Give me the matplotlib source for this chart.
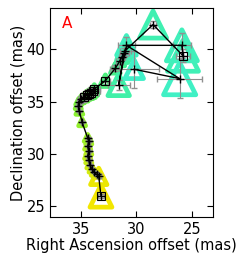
import numpy as np
import matplotlib
matplotlib.use("Agg")
import matplotlib.pyplot as plt
from matplotlib.colors import LinearSegmentedColormap

# Component positions in time order (mas)
ra = [33.2, 33.4, 33.6, 33.8, 34.0, 34.2, 34.3, 34.4, 34.3, 34.4, 34.3, 34.4,
      34.9, 35.15, 35.25, 35.2, 35.0, 34.7, 34.5, 34.3, 34.1, 33.9, 33.8,
      32.8, 31.9, 31.5, 31.3, 31.1, 31.6, 31.0, 28.5, 25.8, 25.9, 30.9, 26.1, 30.2]
dec = [25.9, 27.8, 28.0, 28.2, 28.5, 28.9, 29.4, 29.8, 30.2, 30.7, 31.2, 31.5,
       33.0, 34.1, 34.6, 35.0, 35.2, 35.4, 35.6, 35.7, 35.8, 36.0, 36.2,
       37.0, 38.2, 38.9, 39.3, 39.7, 36.6, 39.9, 42.4, 39.4, 40.4, 40.4, 37.2, 38.1]
ra_err = [0.3, 0.2, 0.1, 0.1, 0.1, 0.1, 0.1, 0.1, 0.1, 0.1, 0.1, 0.1,
          0.1, 0.1, 0.1, 0.2, 0.3, 0.4, 0.5, 0.5, 0.6, 0.6, 0.5,
          0.4, 0.3, 0.3, 0.3, 0.4, 1.0, 0.5, 0.3, 0.6, 0.8, 0.8, 2.0, 2.2]
dec_err = [0.2, 0.2, 0.1, 0.1, 0.1, 0.1, 0.1, 0.1, 0.1, 0.1, 0.1, 0.1,
           0.1, 0.1, 0.1, 0.2, 0.3, 0.4, 0.5, 0.5, 0.5, 0.4, 0.4,
           0.4, 0.3, 0.3, 0.3, 0.4, 0.5, 0.5, 0.3, 0.6, 1.2, 0.8, 1.9, 1.8]
# Relative component size (triangle marker area)
comp_size = [250, 140, 20, 20, 20, 20, 20, 20, 20, 20, 20, 25,
             25, 25, 20, 20, 25, 30, 35, 40, 40, 40, 40,
             70, 50, 50, 70, 120, 240, 140, 380, 500, 500, 200, 540, 180]
# Components marked with a square
square_idx = [0, 17, 18, 19, 20, 21, 22, 23, 31]

label = "A"
xlabel = "Right Ascension offset (mas)"
ylabel = "Declination offset (mas)"
xticks = [35, 30, 25]
yticks = [25, 30, 35, 40]

cmap = LinearSegmentedColormap.from_list(
    "epochs", ["#f2e600", "#b0f020", "#60f040", "#40f0a0", "#40f0c8"])

fig = plt.figure(figsize=(2.45, 2.63), dpi=100)
ax = fig.add_axes([0.204, 0.175, 0.665, 0.795])

t = np.arange(len(ra))
cols = cmap(t / (len(ra) - 1))
ax.scatter(ra, dec, s=comp_size, marker="^", facecolors="none",
           edgecolors=cols, linewidths=3.4, zorder=1)
ax.errorbar(ra, dec, xerr=ra_err, yerr=dec_err, fmt="none",
            ecolor="#909090", elinewidth=0.8, capsize=2.5, zorder=2)
ax.plot(ra, dec, "-", color="black", lw=1.0, zorder=3)
ax.plot(ra, dec, "+", color="black", ms=6, mew=1.0, zorder=4)
sq = np.array(square_idx)
ax.plot(np.array(ra)[sq], np.array(dec)[sq], "s", mfc="none", mec="black",
        ms=5.5, mew=0.8, zorder=4)

ax.set_xlim(37.8, 23.1)
ax.set_ylim(23.9, 44.0)
ax.set_xticks(xticks)
ax.set_yticks(yticks)
ax.tick_params(direction="in", top=True, right=True, labelsize=10.5,
               length=4, width=0.8)
ax.set_xlabel(xlabel, fontsize=10.5, labelpad=1)
ax.set_ylabel(ylabel, fontsize=10.5, labelpad=1)
ax.text(0.07, 0.96, label, transform=ax.transAxes, color="red",
        fontsize=11, va="top", ha="left")

fig.savefig("out.png", dpi=100)
